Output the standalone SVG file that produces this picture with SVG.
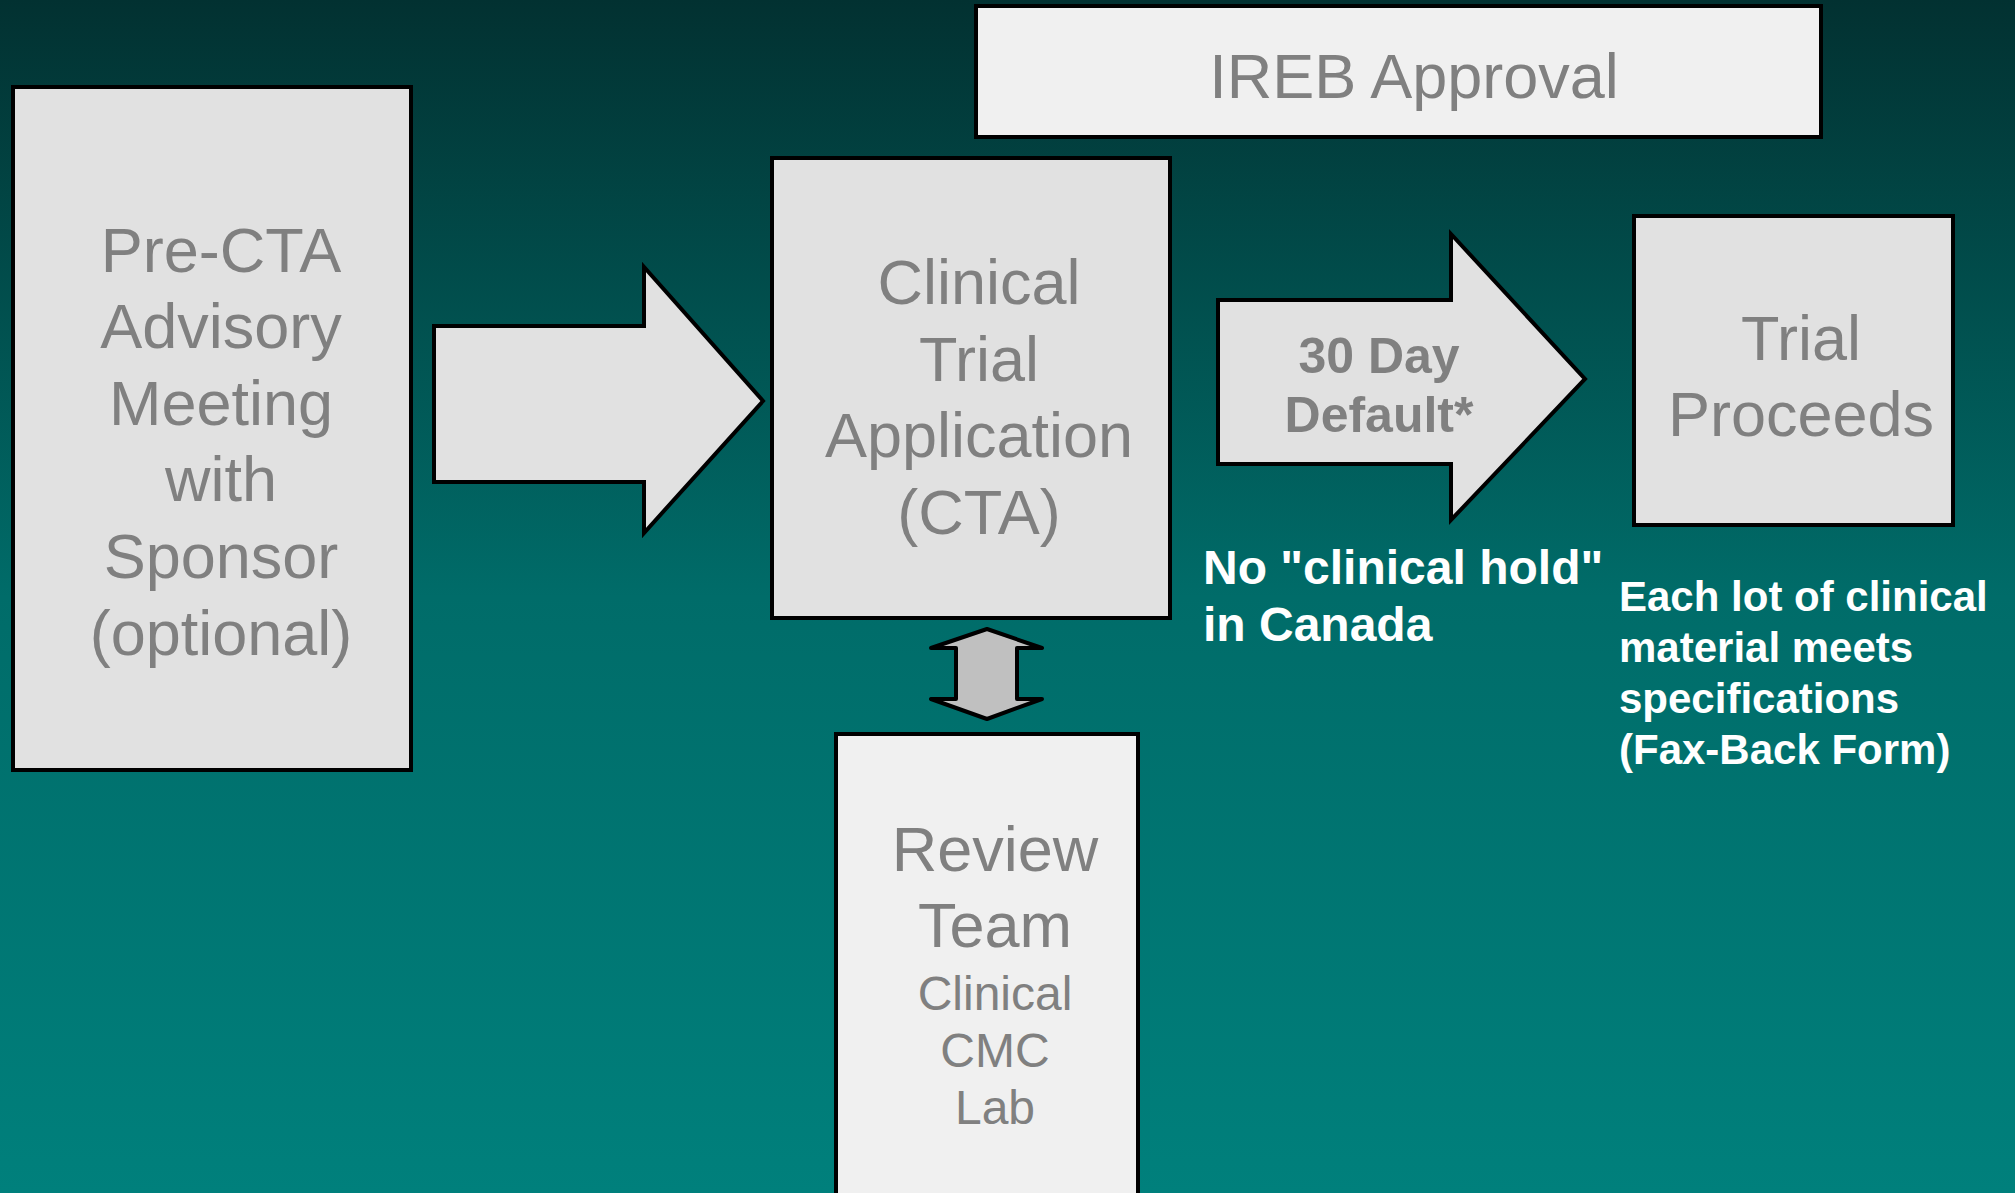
<svg xmlns="http://www.w3.org/2000/svg" width="2015" height="1193" viewBox="0 0 2015 1193">
  <defs>
    <linearGradient id="bg" x1="0" y1="0" x2="0" y2="1">
      <stop offset="0" stop-color="#023131"/>
      <stop offset="0.5" stop-color="#006c69"/>
      <stop offset="1" stop-color="#00807c"/>
    </linearGradient>
    <style>
      .box { fill: #e1e1e1; stroke: #000; stroke-width: 4; stroke-linejoin: miter; }
      .box-light { fill: #f0f0f0; stroke: #000; stroke-width: 4; }
      .arrow { fill: #e1e1e1; stroke: #000; stroke-width: 4; stroke-linejoin: miter; }
      .dbl { fill: #c0c0c0; stroke: #000; stroke-width: 4; stroke-linejoin: round; }
      .lbl { font-family: "Liberation Sans", Arial, sans-serif; fill: #808080; text-anchor: middle; font-size: 63px; }
      .lbl-sm { font-size: 48px; }
      .lbl-bold { font-family: "Liberation Sans", Arial, sans-serif; fill: #808080; text-anchor: middle; font-size: 50px; font-weight: bold; }
      .note { font-family: "Liberation Sans", Arial, sans-serif; fill: #ffffff; font-weight: bold; }
    </style>
  </defs>

  <!-- backdrop -->
  <rect x="0" y="0" width="2015" height="1193" fill="url(#bg)"/>

  <!-- connectors -->
  <g id="connectors">
    <path class="arrow" d="M434,326 L644,326 L644,267 L763,401 L644,533 L644,482 L434,482 Z"/>
    <g id="arrow-30day">
      <path class="arrow" d="M1218,300 L1451,300 L1451,234 L1585,379 L1451,520 L1451,464 L1218,464 Z"/>
      <text class="lbl-bold" x="1379" y="373">30 Day</text>
      <text class="lbl-bold" x="1379" y="432">Default*</text>
    </g>
    <path class="dbl" d="M987,629 L1042,648 L1017,648 L1017,699 L1042,699 L987,719 L931,699 L956,699 L956,648 L931,648 Z"/>
  </g>

  <!-- pre-CTA meeting -->
  <g id="pre-cta">
    <rect class="box" x="13" y="87" width="398" height="683"/>
    <text class="lbl" x="221" y="272">Pre-CTA</text>
    <text class="lbl" x="221" y="348">Advisory</text>
    <text class="lbl" x="221" y="425">Meeting</text>
    <text class="lbl" x="221" y="501">with</text>
    <text class="lbl" x="221" y="578">Sponsor</text>
    <text class="lbl" x="221" y="655">(optional)</text>
  </g>

  <!-- ethics board approval -->
  <g id="ireb">
    <rect class="box-light" x="976" y="6" width="845" height="131"/>
    <text class="lbl" x="1414" y="98">IREB Approval</text>
  </g>

  <!-- clinical trial application -->
  <g id="cta">
    <rect class="box" x="772" y="158" width="398" height="460"/>
    <text class="lbl" x="979" y="304">Clinical</text>
    <text class="lbl" x="979" y="381">Trial</text>
    <text class="lbl" x="979" y="457">Application</text>
    <text class="lbl" x="979" y="534">(CTA)</text>
  </g>

  <!-- trial proceeds -->
  <g id="trial-proceeds">
    <rect class="box" x="1634" y="216" width="319" height="309"/>
    <text class="lbl" x="1801" y="360">Trial</text>
    <text class="lbl" x="1801" y="436">Proceeds</text>
  </g>

  <!-- review team -->
  <g id="review-team">
    <rect class="box-light" x="836" y="734" width="302" height="480"/>
    <text class="lbl" x="995" y="871">Review</text>
    <text class="lbl" x="995" y="947">Team</text>
    <text class="lbl lbl-sm" x="995" y="1010">Clinical</text>
    <text class="lbl lbl-sm" x="995" y="1067">CMC</text>
    <text class="lbl lbl-sm" x="995" y="1124">Lab</text>
  </g>

  <!-- notes -->
  <g id="note-hold">
    <text class="note" x="1203" y="584" font-size="48">No "clinical hold"</text>
    <text class="note" x="1203" y="641" font-size="48">in Canada</text>
  </g>
  <g id="note-lot">
    <text class="note" x="1619" y="611" font-size="42">Each lot of clinical</text>
    <text class="note" x="1619" y="662" font-size="42">material meets</text>
    <text class="note" x="1619" y="713" font-size="42">specifications</text>
    <text class="note" x="1619" y="764" font-size="42">(Fax-Back Form)</text>
  </g>
</svg>
